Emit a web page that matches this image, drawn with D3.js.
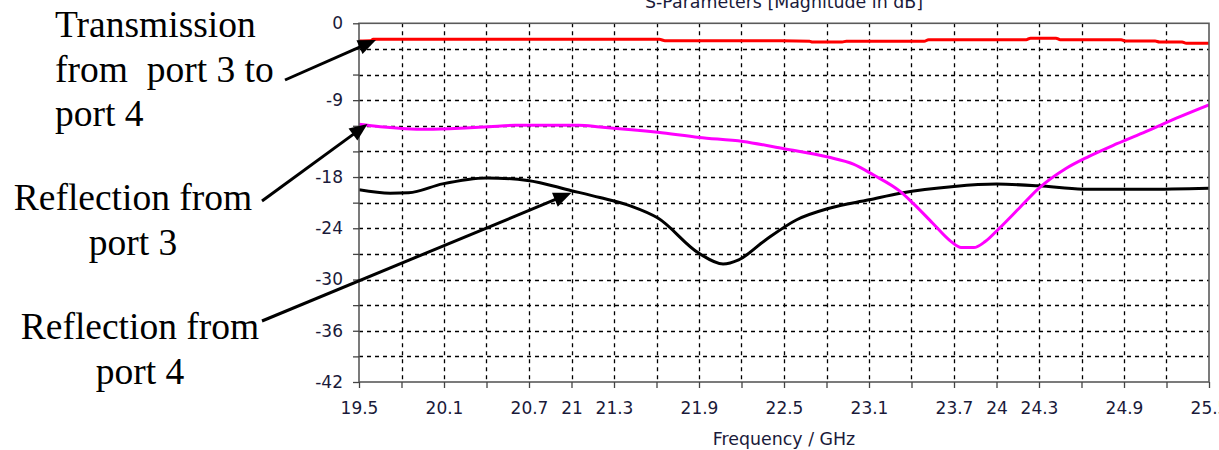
<!DOCTYPE html>
<html><head><meta charset="utf-8">
<script src="https://cdn.jsdelivr.net/npm/d3@7"></script>
<style>
html,body{margin:0;padding:0;background:#fff;overflow:hidden}
svg{display:block}
text.ann{font-family:"Liberation Serif","Times New Roman",serif;font-size:37.5px;fill:#000;white-space:pre}
.ax text{font-family:"DejaVu Sans",Verdana,sans-serif;font-size:17px;fill:#1a1a3a}
text.tt{font-family:"DejaVu Sans",Verdana,sans-serif;font-size:17.4px;fill:#1a1a3a}
</style></head><body>
<svg id="c" width="1219" height="450"></svg>
<script>
// ---- data ----
const title = "S-Parameters [Magnitude in dB]";
const xTitle = "Frequency / GHz";
const xTicks = [19.5,19.8,20.1,20.4,20.7,21,21.3,21.6,21.9,22.2,22.5,22.8,23.1,23.4,23.7,24,24.3,24.6,24.9,25.2,25.5];
const xTickLabels = ["19.5","20.1","20.7","21","21.3","21.9","22.5","23.1","23.7","24","24.3","24.9","25.5"];
const yTicks = [0,-3,-6,-9,-12,-15,-18,-21,-24,-27,-30,-33,-36,-39,-42];
const yTickLabels = ["0","-9","-18","-24","-30","-36","-42"];

// S43 transmission (red)
const redF  = [19.5,19.58,19.6,21.62,21.66,22.48,22.68,22.7,22.91,22.94,23.49,23.52,24.21,24.24,24.42,24.45,24.88,24.91,25.12,25.15,25.31,25.34,25.5];
const redDB = [-2.07,-2.05,-1.88,-1.88,-2.03,-2.05,-2.1,-2.2,-2.2,-2.1,-2.1,-1.92,-1.92,-1.74,-1.74,-1.92,-1.92,-2.07,-2.07,-2.19,-2.19,-2.34,-2.34];
// S33 reflection port 3 (magenta)
const magF  = [19.5,19.65,19.98,20.25,20.42,20.6,21.05,21.2,21.61,21.9,22.21,22.5,22.81,22.99,23.13,23.32,23.41,23.55,23.68,23.75,23.84,23.92,24.02,24.16,24.3,24.49,24.65,24.85,25.05,25.3,25.5];
const magDB = [-11.82,-12.1,-12.4,-12.25,-12.1,-11.95,-11.95,-12.14,-12.77,-13.36,-13.83,-14.69,-15.66,-16.49,-17.74,-19.69,-21.06,-23.41,-25.56,-26.26,-26.26,-25.56,-24.0,-21.65,-19.3,-17.0,-15.6,-14.1,-12.7,-10.9,-9.55];
// S44 reflection port 4 (black)
const blkF  = [19.5,19.72,19.85,20.09,20.4,20.69,21.0,21.2,21.42,21.61,21.9,22.07,22.18,22.37,22.59,22.82,23.1,23.32,23.7,24.0,24.3,24.61,25.05,25.5];
const blkDB = [-19.5,-19.9,-19.85,-18.8,-18.1,-18.4,-19.6,-20.4,-21.4,-22.8,-26.93,-28.18,-27.7,-25.37,-23.0,-21.65,-20.67,-19.89,-19.1,-18.83,-19.03,-19.42,-19.42,-19.3];

// annotations: text lines and arrow (tail in px, tip in data units)
const annTexts = [
  {lines:["Transmission","from  port 3 to","port 4"], x:55, y:37, anchor:"start"},
  {lines:["Reflection from","port 3"], x:133, y:210, anchor:"middle"},
  {lines:["Reflection from","port 4"], x:140, y:339, anchor:"middle"}
];
const arrows = [
  {tail:[285,80], tipF:19.62, tipDB:-1.95},
  {tail:[262,201], tipF:19.56, tipDB:-11.78},
  {tail:[262,321], tipF:21.0, tipDB:-19.85}
];

// ---- layout ----
const L = 359, R = 1209, T = 23.3, B = 382;
const svg = d3.select("#c");
const x = d3.scaleLinear().domain([19.5,25.5]).range([L,R]);
const y = d3.scaleLinear().domain([-42,0]).range([B,T]);

svg.append("defs").append("clipPath").attr("id","pc")
  .append("rect").attr("x",L).attr("y",T).attr("width",R-L).attr("height",B-T);

// grid
const g = svg.append("g");
g.selectAll("line.vx").data(xTicks.slice(1,-1)).join("line")
  .attr("x1",d=>Math.round(x(d))+0.5).attr("x2",d=>Math.round(x(d))+0.5)
  .attr("y1",T).attr("y2",B)
  .attr("stroke","#000").attr("stroke-width",1.3).attr("stroke-dasharray","4,4");
g.selectAll("line.hy").data(yTicks.slice(1,-1)).join("line")
  .attr("y1",d=>Math.round(y(d))+0.5).attr("y2",d=>Math.round(y(d))+0.5)
  .attr("x1",L).attr("x2",R)
  .attr("stroke","#000").attr("stroke-width",1.3).attr("stroke-dasharray","4,4");

// curves
const line = d3.line().x(d=>x(d[0])).y(d=>y(d[1])).curve(d3.curveMonotoneX);
const cg = svg.append("g").attr("clip-path","url(#pc)");
function series(F,D,color){
  cg.append("path").datum(F.map((f,i)=>[f,D[i]]))
    .attr("d",line).attr("fill","none").attr("stroke",color).attr("stroke-width",3)
    .attr("stroke-linejoin","round");
}
series(redF,redDB,"#ff0000");
series(blkF,blkDB,"#000000");
series(magF,magDB,"#ff00ff");

// frame
svg.append("rect").attr("x",L).attr("y",T).attr("width",R-L).attr("height",B-T)
  .attr("fill","none").attr("stroke","#5a5a5a").attr("stroke-width",1.6);

// axes
const xa = svg.append("g").attr("class","ax").attr("transform",`translate(0,${B})`)
  .call(d3.axisBottom(x).tickValues(xTicks).tickSizeOuter(0).tickSize(6).tickPadding(14)
    .tickFormat(d=>{const s=String(+d.toFixed(1)); return xTickLabels.includes(s)?s:"";}));
xa.select(".domain").remove();
xa.selectAll(".tick line").attr("stroke","#444").attr("stroke-width",1.3);

const ya = svg.append("g").attr("class","ax").attr("transform",`translate(${L},0)`)
  .call(d3.axisLeft(y).tickValues(yTicks).tickSizeOuter(0).tickSize(6).tickPadding(10)
    .tickFormat(d=>{const s=String(d); return yTickLabels.includes(s)?s:"";}));
ya.select(".domain").remove();
ya.selectAll(".tick line").attr("stroke","#444").attr("stroke-width",1.3);

// titles
svg.append("text").attr("class","tt").attr("x",(L+R)/2).attr("y",8)
  .attr("text-anchor","middle").text(title);
svg.append("text").attr("class","tt").attr("x",(L+R)/2).attr("y",445)
  .attr("text-anchor","middle").text(xTitle);

// annotations
annTexts.forEach(a=>{
  a.lines.forEach((s,i)=>{
    svg.append("text").attr("class","ann").attr("x",a.x).attr("y",a.y+i*44.5)
      .attr("text-anchor",a.anchor).text(s);
  });
});
arrows.forEach(a=>{
  const tx=x(a.tipF), ty=y(a.tipDB);
  const dx=tx-a.tail[0], dy=ty-a.tail[1], len=Math.hypot(dx,dy);
  const ux=dx/len, uy=dy/len, hl=18, hw=7.5;
  const bx=tx-ux*hl, by=ty-uy*hl;
  svg.append("line").attr("x1",a.tail[0]).attr("y1",a.tail[1]).attr("x2",bx+ux*2).attr("y2",by+uy*2)
    .attr("stroke","#000").attr("stroke-width",3);
  svg.append("path").attr("d",`M${tx},${ty}L${bx-uy*hw},${by+ux*hw}L${bx+uy*hw},${by-ux*hw}Z`)
    .attr("fill","#000");
});
</script>
</body></html>
